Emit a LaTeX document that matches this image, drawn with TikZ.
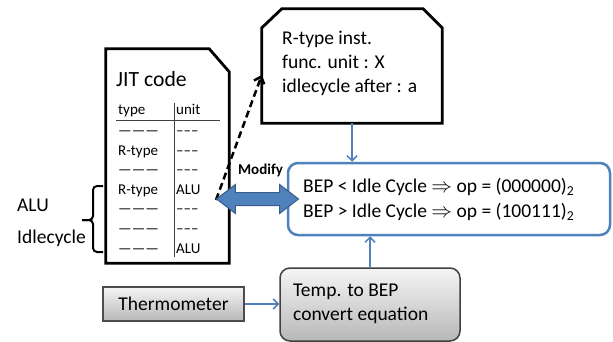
\documentclass[tikz,border=0pt]{standalone}
\usepackage{fontspec}
\setmainfont{Carlito}
\usetikzlibrary{arrows.meta,shapes.arrows,calc}
\definecolor{obl}{HTML}{4F81BD}
\definecolor{obd}{HTML}{385D8A}
\begin{document}
\begin{tikzpicture}[x=1pt,y=-1pt,
  big/.style={font=\fontsize{19.5}{24}\selectfont, inner sep=0, anchor=base west},
  tab/.style={font=\fontsize{15}{17}\selectfont, inner sep=0, anchor=base west},
  barrow/.style={draw=obl, line width=1.5pt, -{Straight Barb[length=5pt,width=10pt]}},
  blk/.style={draw=black, line width=2.8pt, fill=white, line join=miter},
  grayfill/.style={top color=black!4, bottom color=black!28},
  tline/.style={draw=black!75, line width=0.8pt},
  bracestyle/.style={draw=black, line width=2pt, rounded corners=4pt}]
\useasboundingbox (0,0) rectangle (613,342);
\fill[white] (0,0) rectangle (613,342);

% JIT code box
\node[inner sep=0, minimum width=123pt, minimum height=214pt] (jit) at (167.5,156) {};
\draw[blk] (jit.south west) -- (jit.north west) -- ([xshift=-20pt]jit.north east)
  -- ([yshift=-23pt]jit.north east) -- (jit.south east) -- cycle;
\node[font=\fontsize{21.7}{26}\selectfont, inner sep=0, anchor=base west] (jitt) at (116,86.7) {JIT code};
\draw[tline] (116,120) -- (220,120);
\draw[tline] (174,103) -- (174,257);
\node[tab] (hty) at (118,114.5) {type};
\node[tab] (hun) at (176,114.5) {unit};
\node[tab] (r1a) at (118,135.4) {———};
\node[tab] (r1b) at (176,135.4) {–––};
\node[tab] (r2a) at (118,155) {R-type};
\node[tab] (r2b) at (176,155) {–––};
\node[tab] (r3a) at (118,174.6) {———};
\node[tab] (r3b) at (176,174.6) {–––};
\node[tab] (r4a) at (118,194.2) {R-type};
\node[tab] (r4b) at (176,194.2) {ALU};
\node[tab] (r5a) at (118,213.8) {———};
\node[tab] (r5b) at (176,213.8) {–––};
\node[tab] (r6a) at (118,233.4) {———};
\node[tab] (r6b) at (176,233.4) {–––};
\node[tab] (r7a) at (118,253) {———};
\node[tab] (r7b) at (176,253) {ALU};

% brace and label
\draw[bracestyle] (103,186) -- (93,186) -- (93,220) -- (82,220);
\draw[bracestyle] (82,220) -- (93,220) -- (93,252) -- (103,252);
\node[big] (alu) at (17,211.7) {ALU};
\node[big] (idle) at (17,243.3) {Idlecycle};

% R-type box
\node[inner sep=0, minimum width=180pt, minimum height=114pt] (rtype) at (352,66) {};
\draw[blk] (rtype.south west) -- ([yshift=-19pt]rtype.north west) -- ([xshift=20pt]rtype.north west)
  -- ([xshift=-19pt]rtype.north east) -- ([yshift=-19pt]rtype.north east) -- (rtype.south east) -- cycle;
\node[big] (rt1) at (282,44.3) {R-type inst.};
\node[big] (rt2) at (282,68.3) {func. unit : X};
\node[big] (rt3) at (282,92.3) {idlecycle after : a};

% dashed arrow
\coordinate (dstart) at (216,200);
\draw[black, line width=2.5pt, dash pattern=on 7pt off 4pt, -{Straight Barb[length=6pt,width=11pt]}]
  (dstart) -- ([yshift=-9pt]rtype.west);

% BEP box
\node[draw=obl, line width=2.5pt, rounded corners=10pt, minimum width=322pt, minimum height=72pt, fill=white] (bep) at (449,199) {};
\node[big] (b1) at (303,192.7) {BEP < Idle Cycle $\Rightarrow$ op = (000000)\textsubscript{2}};
\node[big] (b2) at (303,217.3) {BEP > Idle Cycle $\Rightarrow$ op = (100111)\textsubscript{2}};

% Modify double arrow
\node[double arrow, draw=obd, fill=obl, line width=1pt, minimum height=82pt, inner xsep=0, inner ysep=6pt,
  double arrow head extend=8pt, double arrow tip angle=75] (modarr) at (257.5,199) {};
\node[font=\bfseries\fontsize{15}{18}\selectfont, inner sep=0, anchor=base] (modlbl) at (260.5,175) {Modify};

% R-type -> BEP
\draw[barrow] (rtype.south) -- (rtype.south |- bep.north);

% Temp box
\node[draw=black!75, line width=1.5pt, rounded corners=10pt, grayfill, minimum width=180pt, minimum height=73pt] (temp) at (370,304.5) {};
\node[big] (tp1) at (293,296) {Temp. to BEP};
\node[big] (tp2) at (293,320) {convert equation};

% Thermometer
\node[draw=black!70, line width=1.2pt, grayfill, minimum width=141pt, minimum height=34pt,
  font=\fontsize{19.5}{24}\selectfont, inner sep=0] (thermo) at (173.5,304) {Thermometer};

\draw[barrow] (thermo.east) -- (thermo.east -| temp.west);
\draw[barrow] (temp.north) -- (temp.north |- bep.south);
\end{tikzpicture}
\end{document}
